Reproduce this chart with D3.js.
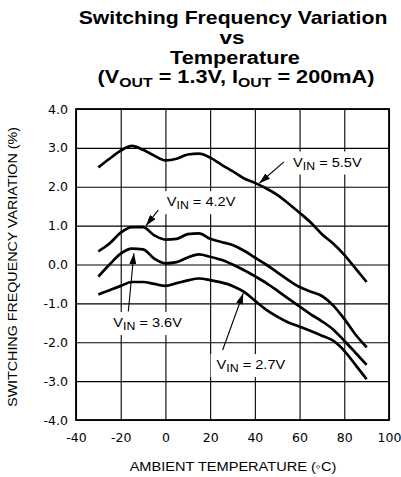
<!DOCTYPE html>
<html><head><meta charset="utf-8">
<script src="https://cdn.jsdelivr.net/npm/d3@7"></script>
<style>html,body{margin:0;padding:0;background:#fff;} svg{display:block;}</style>
</head><body>
<script>
// ---- data ----
const temps = [-30,-25,-20,-15,-10,-5,0,5,10,15,20,25,30,35,40,45,50,55,60,65,70,75,80,85,90];
const vin55 = [2.5,2.72,2.93,3.05,2.95,2.8,2.68,2.72,2.83,2.85,2.75,2.57,2.4,2.22,2.1,1.96,1.79,1.57,1.33,1.08,0.78,0.54,0.25,-0.1,-0.45];
const vin42 = [0.34,0.54,0.82,0.96,0.96,0.75,0.64,0.66,0.78,0.8,0.66,0.58,0.5,0.36,0.18,0.0,-0.2,-0.4,-0.58,-0.7,-0.81,-1.05,-1.4,-1.8,-2.13];
const vin36 = [-0.31,0.0,0.28,0.41,0.39,0.15,0.03,0.06,0.18,0.26,0.2,0.12,0.0,-0.14,-0.3,-0.47,-0.67,-0.88,-1.08,-1.28,-1.46,-1.67,-1.96,-2.27,-2.58];
const vin27 = [-0.77,-0.66,-0.55,-0.45,-0.45,-0.5,-0.55,-0.48,-0.41,-0.36,-0.4,-0.46,-0.55,-0.7,-0.93,-1.16,-1.34,-1.49,-1.6,-1.71,-1.83,-1.96,-2.22,-2.58,-2.95];
const seriesVals = [vin55, vin42, vin36, vin27];
const seriesNames = ["5.5V","4.2V","3.6V","2.7V"];
const xTicks = [-40,-20,0,20,40,60,80,100];
const yTicks = [4,3,2,1,0,-1,-2,-3,-4];
// annotation anchors (data units)
const labelAt   = [[57.1,2.52],[0.6,1.5],[-23.3,-1.61],[22.9,-2.69]];
const arrowFrom = [[53.0,2.64],[-3.2,1.40],[-16.6,-1.21],[25.6,-2.2]];
const arrowTo   = [[42.0,2.09],[-8.7,1.0],[-14.1,0.29],[34.8,-0.74]];
const titleLines = ["Switching Frequency Variation","vs","Temperature"];

// ---- layout ----
const W = 401, H = 477;
const m = {left:76, top:109, right:12, bottom:57};
const pw = W - m.left - m.right, ph = H - m.top - m.bottom;
const x = d3.scaleLinear([-40,100],[m.left, m.left+pw]);
const y = d3.scaleLinear([-4,4],[m.top+ph, m.top]);

const svg = d3.select("body").append("svg").attr("width",W).attr("height",H)
  .style("font-family","'Liberation Sans',Arial,sans-serif");
svg.append("rect").attr("width",W).attr("height",H).attr("fill","#fff");

function fitWidth(sel, target, ax){
  const w = sel.node().getBBox().width;
  const k = target / w;
  sel.attr("transform",`translate(${ax},0) scale(${k},1) translate(${-ax},0)`);
}

// title
const tCx = [233, 232, 235];
const tBase = [24.5, 44.5, 64];
const tWidths = [309, 25, 130];
titleLines.forEach((t,i)=>{
  const s = svg.append("text").attr("x",tCx[i]).attr("y",tBase[i]).attr("text-anchor","middle")
    .attr("font-weight","bold").attr("font-size",18.5).text(t);
  fitWidth(s, tWidths[i], tCx[i]);
});
{
  const s = svg.append("text").attr("x",236).attr("y",83).attr("text-anchor","middle")
    .attr("font-weight","bold").attr("font-size",18.5);
  s.append("tspan").text("(V");
  s.append("tspan").attr("font-size",13.5).attr("dy",4).text("OUT");
  s.append("tspan").attr("dy",-4).text(" = 1.3V, I");
  s.append("tspan").attr("font-size",13.5).attr("dy",4).text("OUT");
  s.append("tspan").attr("dy",-4).text(" = 200mA)");
  fitWidth(s, 277, 236);
}

// grid + axes
const gy = svg.append("g").attr("transform",`translate(${m.left},0)`)
  .call(d3.axisLeft(y).tickValues(yTicks).tickSize(-pw).tickPadding(8).tickFormat(d=>d.toFixed(1)));
const gx = svg.append("g").attr("transform",`translate(0,${m.top+ph})`)
  .call(d3.axisBottom(x).tickValues(xTicks).tickSize(-ph).tickPadding(13).tickFormat(d=>String(d)));
[gx,gy].forEach(g=>{
  g.select(".domain").remove();
  g.selectAll(".tick line").attr("stroke","#000").attr("stroke-width",1.1);
  g.selectAll(".tick text").attr("fill","#000").attr("font-size",12.5)
    .attr("font-family","'DejaVu Sans',Verdana,sans-serif");
});
svg.append("rect").attr("x",m.left).attr("y",m.top).attr("width",pw).attr("height",ph)
  .attr("fill","none").attr("stroke","#000").attr("stroke-width",1.8);

// axis titles
{
  const s = svg.append("text").attr("x",233).attr("y",471).attr("text-anchor","middle")
    .attr("font-size",13).text("AMBIENT TEMPERATURE (\u25E6C)");
  fitWidth(s, 207, 233);
}
{
  const g = svg.append("g").attr("transform","translate(17,267) rotate(-90)");
  const s = g.append("text").attr("x",0).attr("y",0).attr("text-anchor","middle")
    .attr("font-size",12.5).text("SWITCHING FREQUENCY VARIATION (%)");
  fitWidth(s, 280, 0);
}

// arrow marker
svg.append("defs").append("marker").attr("id","ah").attr("viewBox","0 0 11 7")
  .attr("refX",11).attr("refY",3.5).attr("markerWidth",11).attr("markerHeight",7)
  .attr("markerUnits","userSpaceOnUse").attr("orient","auto")
  .append("path").attr("d","M0,0L11,3.5L0,7Z").attr("fill","#000");

// labels with white boxes
seriesNames.forEach((n,i)=>{
  const lx = x(labelAt[i][0]), ly = y(labelAt[i][1]);
  const g = svg.append("g");
  const box = g.append("rect").attr("fill","#fff");
  const s = g.append("text").attr("x",lx).attr("y",ly).attr("font-size",13);
  s.append("tspan").text("V");
  s.append("tspan").attr("font-size",11).attr("dy",3).text("IN");
  s.append("tspan").attr("dy",-3).text(" = " + n);
  fitWidth(s, 69, lx);
  box.attr("x", lx - 6).attr("y", ly - 15).attr("width", 69 + 12).attr("height", 23);
  g.append("line").attr("x1",x(arrowFrom[i][0])).attr("y1",y(arrowFrom[i][1]))
    .attr("x2",x(arrowTo[i][0])).attr("y2",y(arrowTo[i][1]))
    .attr("stroke","#000").attr("stroke-width",1.1).attr("marker-end","url(#ah)");
});

// curves
const line = d3.line().x((d,i)=>x(temps[i])).y(d=>y(d)).curve(d3.curveMonotoneX);
svg.append("g").selectAll("path").data(seriesVals).join("path")
  .attr("d",line).attr("fill","none").attr("stroke","#000")
  .attr("stroke-width",2.7).attr("stroke-linejoin","round").attr("stroke-linecap","butt");
</script>
</body></html>
